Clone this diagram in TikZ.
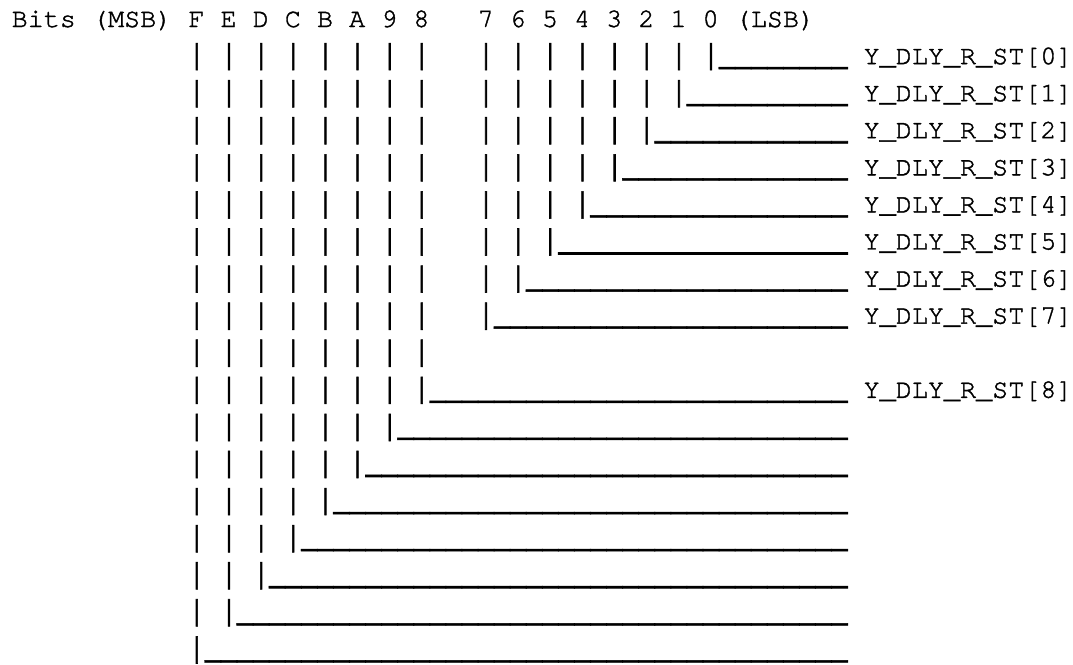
\documentclass[tikz,border=0pt]{standalone}
\usepackage{fontspec}
\usepackage{graphicx}
\setmonofont[FakeBold=1.5]{texgyrecursor-regular.otf}
\ExplSyntaxOn
\cs_new:Npn \myrep #1#2 { \prg_replicate:nn {#1} {#2} }
\ExplSyntaxOff
\newcommand\vb{\hbox to 0.6em{\hss\raisebox{-1.5pt}{\scalebox{1.5}[1.392]{|}}\hss}}
\newcommand\uls[1]{\scalebox{1}[1.5]{\myrep{#1}{\_}}}
\newcommand\hib{\vb~\vb~\vb~\vb~\vb~\vb~\vb~\vb}
\newcommand\lbl[1]{~Y\_DLY\_R\_ST[#1]}
\begin{document}
\begin{tikzpicture}[x=1pt,y=1pt,
  asciirow/.style={anchor=base west, inner sep=0pt, font=\ttfamily\fontsize{26.78}{32}\selectfont}]
\useasboundingbox (0,0) rectangle (1073,-664);
\def\xa{11.5}
\def\xb{188.6}
\def\pitch{37.08}
\node[asciirow] (r0) at (\xa,-27) {Bits~(MSB)~F~E~D~C~B~A~9~8~~~7~6~5~4~3~2~1~0~(LSB)};
\foreach \r [evaluate=\r as \nb using int(8-\r),
             evaluate=\r as \nu using int(2*\r+6),
             evaluate=\r as \k using int(\r-1)] in {1,...,8} {
  \node[asciirow] (r\r) at (\xb,{-(27+\r*\pitch)}) {\hib~~~\vb\myrep{\nb}{~\vb}\uls{\nu}\lbl{\k}};
}
\node[asciirow] (r9) at (\xb,{-(27+9*\pitch)}) {\hib};
\node[asciirow] (r10) at (\xb,{-(27+10*\pitch)}) {\hib\uls{26}\lbl{8}};
\foreach \r [evaluate=\r as \nb using int(17-\r),
             evaluate=\r as \nu using int(2*\r+6)] in {11,...,17} {
  \node[asciirow] (r\r) at (\xb,{-(27+\r*\pitch)}) {\vb\myrep{\nb}{~\vb}\uls{\nu}};
}
\end{tikzpicture}
\end{document}
